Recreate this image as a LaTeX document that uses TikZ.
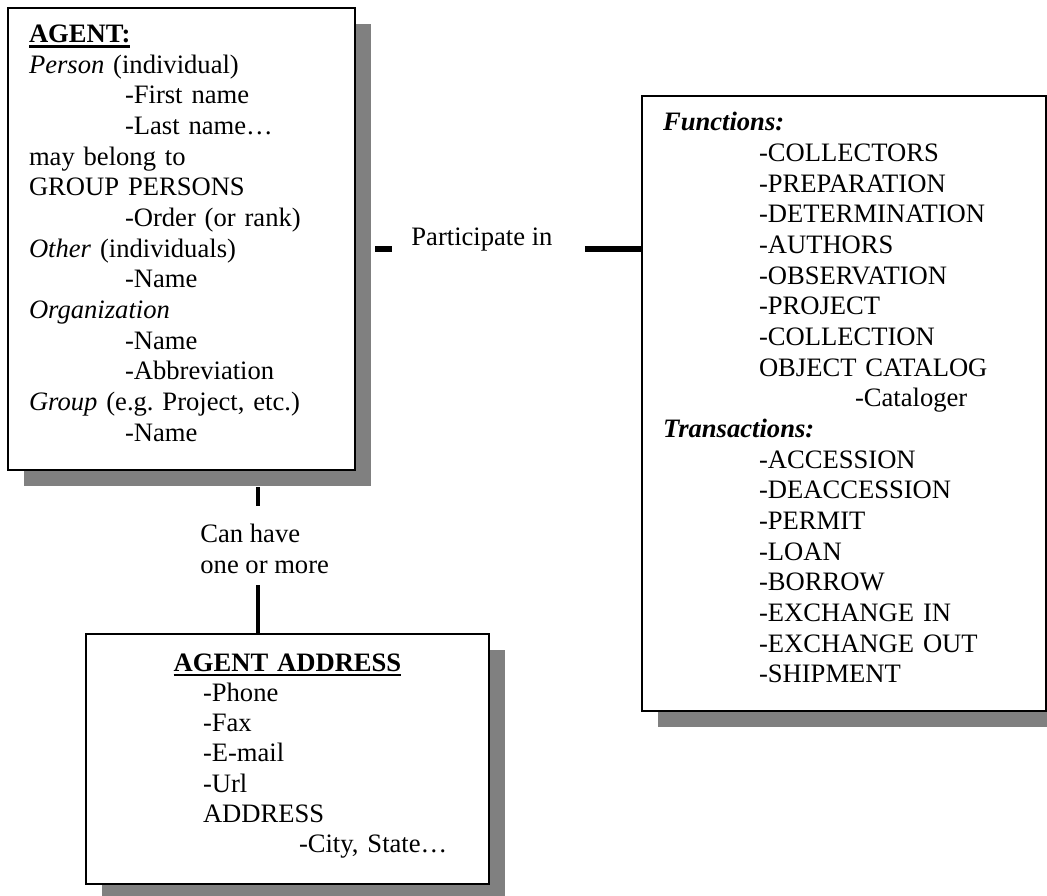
\documentclass[tikz,border=0pt]{standalone}
\usepackage{fontspec}
\setmainfont{Liberation Serif}
\usetikzlibrary{shadows}

\newcommand{\tabin}{\hspace*{48pt}}
\newcommand{\undertext}[1]{\setbox0\hbox{#1}\rlap{\rule[-2.6pt]{\wd0}{1.4pt}}\box0}
\newcommand{\boxfoot}{\rule[-6pt]{0pt}{0pt}}

\begin{document}
\begin{tikzpicture}[x=0.5pt, y=-0.5pt,
        every node/.style={font=\fontsize{13.3pt}{15.33pt}\selectfont},
        entity/.style={draw, line width=1pt, fill=white, anchor=north west, align=left, inner xsep=10.5pt,
            drop shadow={shadow xshift=8pt, shadow yshift=-8pt, fill=black!50, opacity=1}},
        linklabel/.style={inner sep=0pt, align=left},
        hlink/.style={line width=3pt},
        vlink/.style={line width=2pt}]

                \useasboundingbox (0,0) rectangle (1047,895);

                % Nodes
                \node[entity, text width=152.5pt, minimum width=173.5pt, minimum height=231pt] (agent) at (7,7) {%
                    \undertext{\textbf{AGENT:}}\\
                    \textit{Person} (individual)\\
                    \tabin-First name\\
                    \tabin-Last name…\\
                    may belong to\\
                    GROUP PERSONS\\
                    \tabin-Order (or rank)\\
                    \textit{Other} (individuals)\\
                    \tabin-Name\\
                    \textit{Organization}\\
                    \tabin-Name\\
                    \tabin-Abbreviation\\
                    \textit{Group} (e.g.\ Project, etc.)\\
                    \tabin-Name\boxfoot};
                \node[entity, text width=181pt, minimum width=202pt, minimum height=307.5pt] (functions) at (641,95) {%
                    \textbf{\textit{Functions:}}\\
                    \tabin-COLLECTORS\\
                    \tabin-PREPARATION\\
                    \tabin-DETERMINATION\\
                    \tabin-AUTHORS\\
                    \tabin-OBSERVATION\\
                    \tabin-PROJECT\\
                    \tabin-COLLECTION\\
                    \tabin OBJECT CATALOG\\
                    \tabin\tabin-Cataloger\\
                    \textbf{\textit{Transactions:}}\\
                    \tabin-ACCESSION\\
                    \tabin-DEACCESSION\\
                    \tabin-PERMIT\\
                    \tabin-LOAN\\
                    \tabin-BORROW\\
                    \tabin-EXCHANGE IN\\
                    \tabin-EXCHANGE OUT\\
                    \tabin-SHIPMENT\boxfoot};
                \node[entity, text width=180.5pt, minimum width=201.5pt, minimum height=125pt,
                    font=\fontsize{13.3pt}{15.1pt}\selectfont] (address) at (85,633) {%
                    \makebox[\hsize]{\undertext{\textbf{AGENT ADDRESS}}}\\
                    \tabin-Phone\\
                    \tabin-Fax\\
                    \tabin-E-mail\\
                    \tabin-Url\\
                    \tabin ADDRESS\\
                    \tabin\tabin-City, State…\boxfoot};
                \node[linklabel, anchor=base west] (part) at (411,245) {Participate in};
                \node[linklabel, anchor=north west] (have) at (200,524) {Can have\\one or more};
                \coordinate (partline) at (0,249);
                \coordinate (linkx) at (258,0);

                % Edges
                \draw[hlink] ([xshift=9.5pt]agent.east |- partline) -- ([xshift=-9.5pt]part.west |- partline);
                \draw[hlink] ([xshift=16pt]part.east |- partline) -- (functions.west |- partline);
                \draw[vlink] ([yshift=-8pt]agent.south -| linkx) -- ([yshift=9pt]have.north -| linkx);
                \draw[vlink] ([yshift=-5.5pt]have.south -| linkx) -- (address.north -| linkx);

\end{tikzpicture}
\end{document}
